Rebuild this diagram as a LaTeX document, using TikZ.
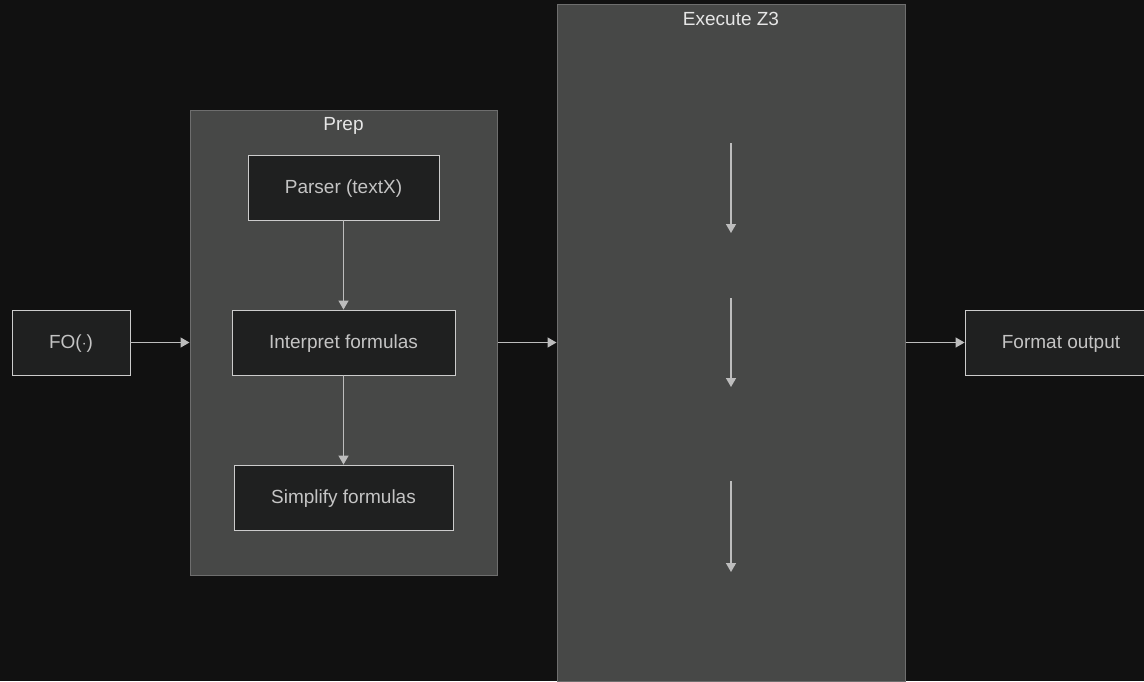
\documentclass[tikz,border=0pt]{standalone}
\usepackage{fontspec}
\setmainfont{Liberation Sans}
\usetikzlibrary{arrows.meta}
\definecolor{bgdark}{HTML}{111111}
\definecolor{clusterfill}{HTML}{474847}
\definecolor{clusterline}{HTML}{6E6E6E}
\definecolor{boxfill}{HTML}{1F2020}
\definecolor{boxline}{HTML}{CCCCCC}
\definecolor{textgray}{HTML}{C4C4C4}
\definecolor{labelwhite}{HTML}{E6E6E6}
\definecolor{arrowgray}{HTML}{BDBDBD}

\begin{document}
\begin{tikzpicture}[x=1pt,y=-1pt,
  box/.style={draw=boxline, fill=boxfill, line width=0.9pt, minimum height=65pt,
    inner sep=0pt, text height=14pt, text depth=2pt, text=textgray,
    font=\fontsize{19}{23}\selectfont},
  cluster/.style={draw=clusterline, fill=clusterfill, line width=1pt, inner sep=0pt},
  clusterlabel/.style={text=labelwhite, font=\fontsize{19}{23}\selectfont},
  flow/.style={draw=arrowgray, line width=1.4pt, -{Triangle[length=9pt,width=10pt]}}]
\useasboundingbox (0,0) rectangle (1144,681);
\fill[bgdark] (0,0) rectangle (1144,681);
\clip (0,0) rectangle (1144,681);

\node[cluster, minimum width=307pt, minimum height=465pt] (prep) at (343.5,342.5) {};
\node[clusterlabel] (preplabel) at (343.5,126) {Prep};

\node[cluster, minimum width=348pt, minimum height=677pt] (exec) at (731,342.5) {};
\node[clusterlabel] (execlabel) at (731,19) {Execute Z3};

\node[box, minimum width=118pt] (fo) at (71,342.5) {FO($\cdot$)};
\node[box, minimum width=191pt] (parser) at (343.5,187.5) {Parser (textX)};
\node[box, minimum width=223pt] (interp) at (343.5,342.5) {Interpret formulas};
\node[box, minimum width=219pt] (simp) at (343.5,497.5) {Simplify formulas};
\node[box, minimum width=192pt] (fmt) at (1061,342.5) {Format output};

\coordinate (zonea) at (731,143);
\coordinate (zoneb) at (731,233);
\coordinate (ztwoa) at (731,298);
\coordinate (ztwob) at (731,387);
\coordinate (zthreea) at (731,481);
\coordinate (zthreeb) at (731,572);

\draw[flow] (fo) -- (prep);
\draw[flow] (parser) -- (interp);
\draw[flow] (interp) -- (simp);
\draw[flow] (prep) -- (exec);
\draw[flow] (exec) -- (fmt);

\draw[flow] (zonea) -- (zoneb);
\draw[flow] (ztwoa) -- (ztwob);
\draw[flow] (zthreea) -- (zthreeb);
\end{tikzpicture}
\end{document}
